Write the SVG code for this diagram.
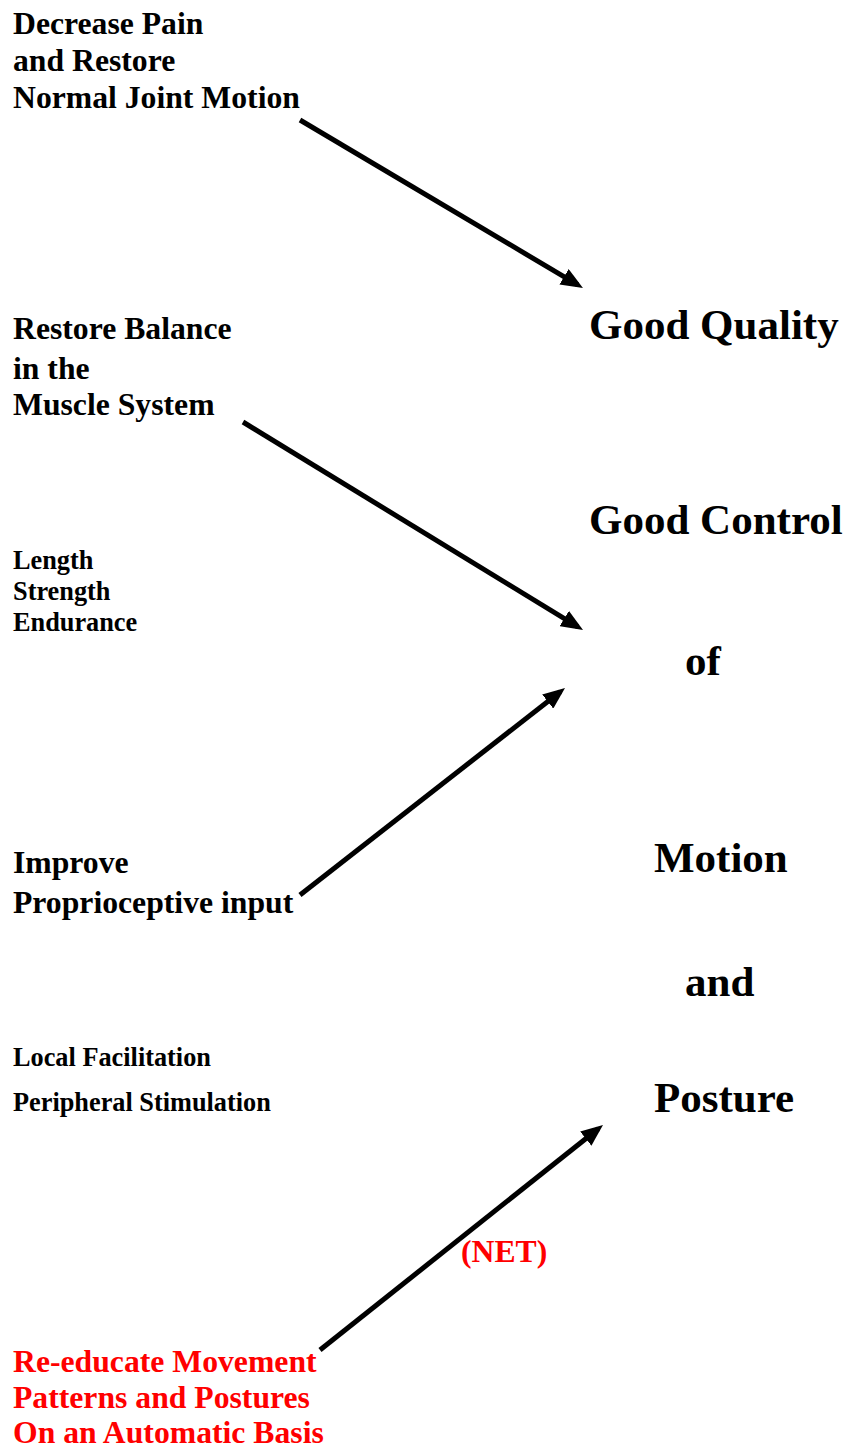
<svg xmlns="http://www.w3.org/2000/svg" width="846" height="1450" viewBox="0 0 846 1450">
  <style>
    text { font-family: "Liberation Serif", "Times New Roman", serif; font-weight: bold; fill: #000; }
    .lbl { font-size: 31.7px; }
    .small { font-size: 26.3px; }
    .big { font-size: 43px; }
    .red { fill: #ff0000; }
    .conn { stroke: #000; stroke-width: 5; fill: none; marker-end: url(#head); }
  </style>
  <defs>
    <marker id="head" viewBox="0 0 22 18" markerWidth="22" markerHeight="18" markerUnits="userSpaceOnUse" refX="16" refY="9" orient="auto">
      <path d="M0,0 L22,9 L0,18 z" fill="#000"/>
    </marker>
  </defs>
  <rect width="846" height="1450" fill="#fff"/>

  <!-- left column: treatment goals -->
  <g id="pain-joint">
    <text class="lbl" x="13" y="34">Decrease Pain</text>
    <text class="lbl" x="13" y="71">and Restore</text>
    <text class="lbl" x="13" y="108">Normal Joint Motion</text>
  </g>
  <g id="muscle-balance">
    <text class="lbl" x="13" y="339">Restore Balance</text>
    <text class="lbl" x="13" y="379">in the</text>
    <text class="lbl" x="13" y="415">Muscle System</text>
  </g>
  <g id="muscle-qualities">
    <text class="small" x="13" y="569">Length</text>
    <text class="small" x="13" y="600">Strength</text>
    <text class="small" x="13" y="631">Endurance</text>
  </g>
  <g id="proprioception">
    <text class="lbl" x="13" y="873">Improve</text>
    <text class="lbl" x="13" y="913">Proprioceptive input</text>
  </g>
  <g id="facilitation">
    <text class="small" x="13" y="1066">Local Facilitation</text>
    <text class="small" x="13" y="1111">Peripheral Stimulation</text>
  </g>
  <g id="reeducate">
    <text class="lbl red" x="13" y="1372">Re-educate Movement</text>
    <text class="lbl red" x="13" y="1408">Patterns and Postures</text>
    <text class="lbl red" x="13" y="1443">On an Automatic Basis</text>
  </g>

  <!-- right column: outcome -->
  <g id="outcome">
    <text class="big" x="589" y="339">Good Quality</text>
    <text class="big" x="589" y="534">Good Control</text>
    <text class="big" x="685" y="675">of</text>
    <text class="big" x="654" y="872">Motion</text>
    <text class="big" x="685" y="996">and</text>
    <text class="big" x="654" y="1112">Posture</text>
  </g>

  <!-- connectors -->
  <g id="connectors">
    <line class="conn" x1="300" y1="120" x2="577.8" y2="284.9"/>
    <line class="conn" x1="243" y1="422" x2="577.9" y2="626.9"/>
    <line class="conn" x1="300" y1="895" x2="560.3" y2="691.7"/>
    <line class="conn" x1="320" y1="1350" x2="598.3" y2="1128.7"/>
    <text class="lbl red" x="461" y="1262">(NET)</text>
  </g>
</svg>
